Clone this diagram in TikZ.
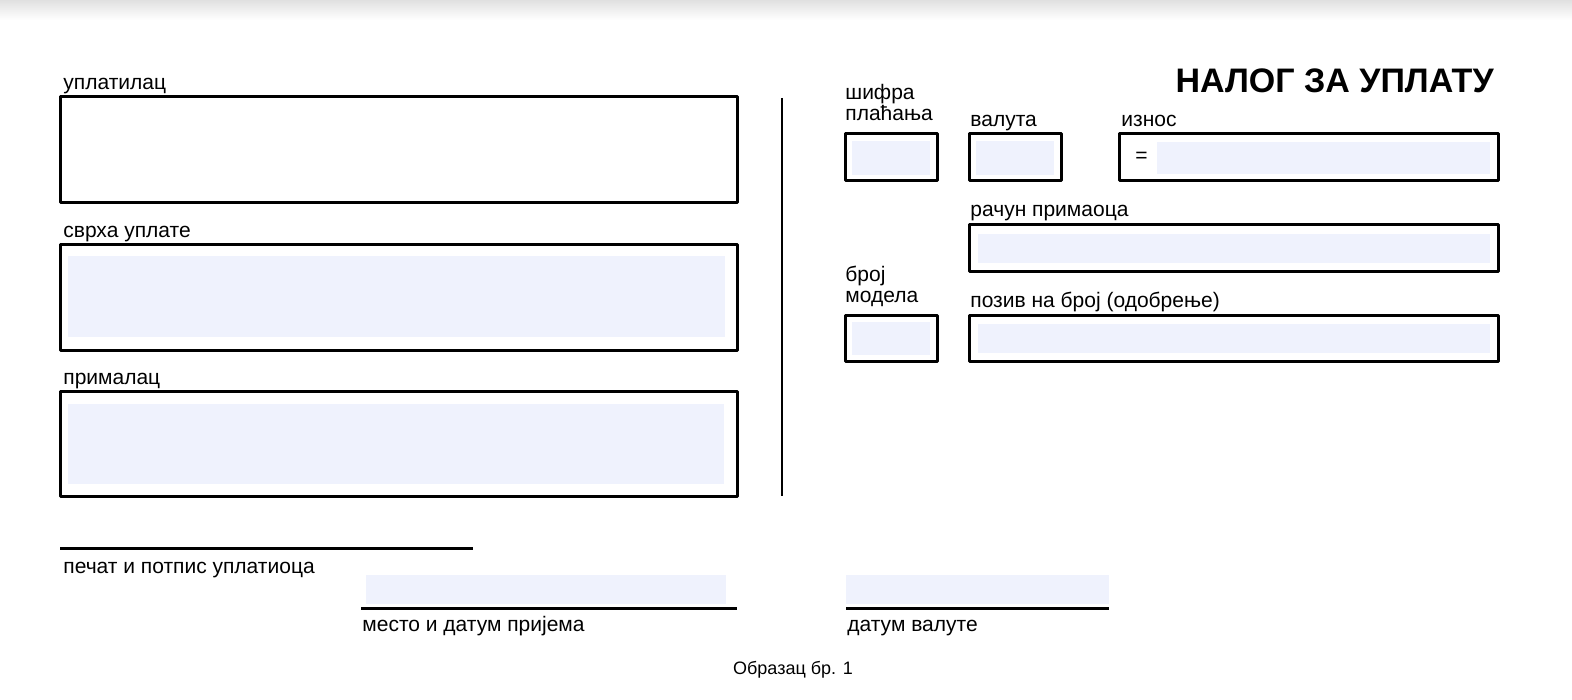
\documentclass[tikz,border=0pt]{standalone}
\usepackage{fontspec}
\setmainfont{Liberation Sans}
\usetikzlibrary{positioning}
\definecolor{fieldfill}{RGB}{239,242,253}

\begin{document}
\begin{tikzpicture}[x=0.5pt,y=-0.5pt,
    box/.style={line width=1.5pt, line join=round},
    entry/.style={fill=fieldfill},
    rule/.style={line width=1.5pt},
    lbl/.style={anchor=base west, inner sep=0pt, font=\fontsize{10.5}{12}\selectfont},
    small/.style={anchor=base, inner sep=0pt, font=\fontsize{9}{11}\selectfont}]

    \useasboundingbox (0,0) rectangle (1572,700);
    \shade[top color=black!12, bottom color=white] (0,0) rectangle (1572,20);

    % left column
    \node[lbl] (payer) at (63,90) {уплатилац};
    \draw[box] (60,97) rectangle (737,203);

    \node[lbl] (purpose) at (63,237) {сврха уплате};
    \fill[entry] (68,256) rectangle (725,337);
    \draw[box] (60,244) rectangle (737,350);

    \node[lbl] (payee) at (63,384) {прималац};
    \fill[entry] (68,404) rectangle (724,484);
    \draw[box] (60,391) rectangle (737,496);

    \coordinate (sep top) at (782,98);
    \coordinate (sep bot) at (782,496);
    \draw[line width=1pt] (sep top) -- (sep bot);

    % right column
    \node[anchor=base east, inner sep=0pt, font=\bfseries\fontsize{17}{20}\selectfont] (title) at (1494,93) {НАЛОГ ЗА УПЛАТУ};

    \node[lbl] (code) at (845,100) {шифра};
    \node[lbl] (code2) at (845,121) {плаћања};
    \fill[entry] (852,141) rectangle (930,175);
    \draw[box] (845,134) rectangle (937,181);

    \node[lbl] (curr) at (970,127) {валута};
    \fill[entry] (976,141) rectangle (1054,175);
    \draw[box] (969,134) rectangle (1061,181);

    \node[lbl] (amount) at (1121,127) {износ};
    \node[lbl] (eq) at (1135,163) {=};
    \fill[entry] (1157,142) rectangle (1490,174);
    \draw[box] (1119,134) rectangle (1498,181);

    \node[lbl] (account) at (970,217) {рачун примаоца};
    \fill[entry] (978,234) rectangle (1490,263);
    \draw[box] (969,225) rectangle (1498,271);

    \node[lbl] (model) at (845,281) {број};
    \node[lbl] (model2) at (845,302) {модела};
    \fill[entry] (852,322) rectangle (930,355);
    \draw[box] (845,315) rectangle (937,361);

    \node[lbl] (ref) at (970,307) {позив на број (одобрење)};
    \fill[entry] (978,324) rectangle (1490,353);
    \draw[box] (969,315) rectangle (1498,361);

    % signature lines
    \coordinate (sig a) at (60,548);
    \coordinate (sig b) at (473,548);
    \draw[rule] (sig a) -- (sig b);
    \node[lbl] (stamp) at (63,573) {печат и потпис уплатиоца};

    \fill[entry] (366,575) rectangle (726,604);
    \coordinate (place a) at (361,608);
    \coordinate (place b) at (737,608);
    \draw[rule] (place a) -- (place b);
    \node[lbl] (place) at (362,631) {место и датум пријема};

    \fill[entry] (846,575) rectangle (1109,604);
    \coordinate (date a) at (846,608);
    \coordinate (date b) at (1109,608);
    \draw[rule] (date a) -- (date b);
    \node[lbl] (date) at (847,631) {датум валуте};

    \node[small] (form) at (793,674) {Образац бр. 1};
\end{tikzpicture}
\end{document}
